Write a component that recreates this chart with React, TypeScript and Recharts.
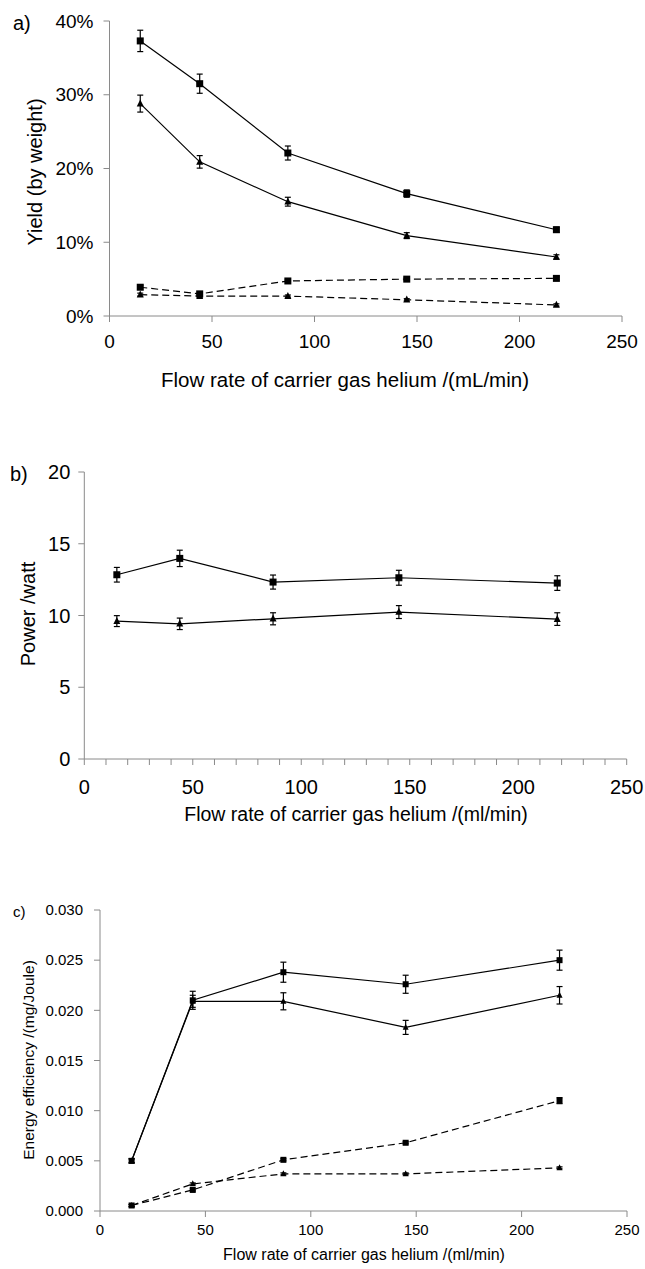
import React from "react";
import { LineChart, Line, XAxis, YAxis, ErrorBar } from "recharts";

// flow rate of carrier gas helium (ml/min)
const flow = [15, 44, 87, 145, 218];

// a) yield, % by weight
const yieldSq = [37.3, 31.5, 22.1, 16.6, 11.7];
const yieldSqErr = [1.45, 1.3, 0.95, 0.5, 0.35];
const yieldTri = [28.8, 20.9, 15.5, 10.9, 8.0];
const yieldTriErr = [1.15, 0.85, 0.6, 0.4, 0.3];
const yieldSqDash = [3.9, 3.0, 4.75, 5.0, 5.1];
const yieldSqDashErr = [0.25, 0.2, 0.2, 0.2, 0.2];
const yieldTriDash = [2.9, 2.7, 2.7, 2.2, 1.5];
const yieldTriDashErr = [0.2, 0.2, 0.15, 0.15, 0.15];

// b) power, watt
const powerSq = [12.84, 13.98, 12.33, 12.63, 12.26];
const powerSqErr = [0.51, 0.57, 0.49, 0.52, 0.51];
const powerTri = [9.61, 9.42, 9.77, 10.24, 9.75];
const powerTriErr = [0.38, 0.4, 0.42, 0.45, 0.44];

// c) energy efficiency, mg/Joule
const effSq = [0.005, 0.021, 0.0238, 0.0226, 0.025];
const effSqErr = [0.0002, 0.0009, 0.001, 0.0009, 0.001];
const effTri = [0.005, 0.0209, 0.0209, 0.0183, 0.0215];
const effTriErr = [0.0002, 0.0006, 0.00085, 0.0007, 0.00087];
const effSqDash = [0.00055, 0.0021, 0.0051, 0.0068, 0.011];
const effSqDashErr = [0.0001, 0.0001, 0.0001, 0.0001, 0.0003];
const effTriDash = [0.00055, 0.0027, 0.0037, 0.0037, 0.0043];
const effTriDashErr = [0.0001, 0.0001, 0.0001, 0.0001, 0.0001];

const xTicks = [0, 50, 100, 150, 200, 250];
const xTicksMinor = [0, 10, 20, 30, 40, 50, 60, 70, 80, 90, 100, 110, 120, 130, 140, 150, 160, 170, 180, 190, 200, 210, 220, 230, 240, 250];
const yTicksA = [0, 10, 20, 30, 40];
const yTicksB = [0, 5, 10, 15, 20];
const yTicksC = [0, 0.005, 0.01, 0.015, 0.02, 0.025, 0.03];

const FONT = '"Liberation Sans", Arial, sans-serif';
const AXIS = "#8a8a8a";

type Series = { key: string; values: number[]; err: number[]; marker: "sq" | "tri"; dashed: boolean };

const square = (s: number) => (p: any) => (
  <rect key={p.index} x={p.cx - s / 2} y={p.cy - s / 2} width={s} height={s} fill="#000" />
);
const triangle = (s: number) => (p: any) => (
  <polygon
    key={p.index}
    points={`${p.cx},${p.cy - s * 0.6} ${p.cx - s / 2},${p.cy + s * 0.4} ${p.cx + s / 2},${p.cy + s * 0.4}`}
    fill="#000"
  />
);

function Panel(props: {
  top: number;
  height: number;
  margin: { top: number; right: number; left: number; bottom: number };
  yWidth: number;
  yDomain: [number, number];
  yTicks: number[];
  yFormat: (v: number) => string;
  xTickValues: number[];
  tickFont: number;
  tickMargin: { x: number; y: number };
  series: Series[];
  marker: number;
}) {
  const data = flow.map((x, i) => {
    const row: any = { x };
    props.series.forEach((s) => {
      row[s.key] = s.values[i];
      row[s.key + "Err"] = s.err[i];
    });
    return row;
  });
  const tick = { fill: "#000", fontSize: props.tickFont, fontFamily: FONT };
  return (
    <div style={{ position: "absolute", left: 0, top: props.top }}>
      <LineChart width={645} height={props.height} data={data} margin={props.margin}>
        <XAxis
          dataKey="x"
          type="number"
          domain={[0, 250]}
          ticks={props.xTickValues}
          interval={0}
          tickFormatter={(v: number) => (v % 50 === 0 ? String(v) : "")}
          stroke={AXIS}
          tickSize={6}
          tickMargin={props.tickMargin.x}
          tick={tick}
          tickLine={{ stroke: AXIS }}
          height={30}
        />
        <YAxis
          type="number"
          domain={props.yDomain}
          ticks={props.yTicks}
          interval={0}
          tickFormatter={props.yFormat}
          stroke={AXIS}
          tickSize={6}
          tickMargin={props.tickMargin.y}
          tick={tick}
          tickLine={{ stroke: AXIS }}
          width={props.yWidth}
        />
        {props.series.map((s) => (
          <Line
            key={s.key}
            dataKey={s.key}
            stroke="#000"
            strokeWidth={1.2}
            strokeDasharray={s.dashed ? "7 4" : undefined}
            dot={s.marker === "sq" ? square(props.marker) : triangle(props.marker)}
            activeDot={false}
            isAnimationActive={false}
          >
            <ErrorBar dataKey={s.key + "Err"} width={3} stroke="#000" strokeWidth={1.2} direction="y" />
          </Line>
        ))}
      </LineChart>
    </div>
  );
}

function Text(props: { x: number; y: number; size: number; rotate?: boolean; anchor?: "start" | "middle"; children: string }) {
  const tx = props.anchor === "start" ? "0" : "-50%";
  return (
    <div
      style={{
        position: "absolute",
        left: props.x,
        top: props.y,
        fontFamily: FONT,
        fontSize: props.size,
        lineHeight: 1,
        whiteSpace: "nowrap",
        color: "#000",
        transform: `translate(${tx}, -50%)${props.rotate ? " rotate(-90deg)" : ""}`,
        transformOrigin: props.rotate ? "50% 50%" : undefined,
      }}
    >
      {props.children}
    </div>
  );
}

export default function App() {
  return (
    <div style={{ position: "absolute", left: 0, top: 0, width: 645, height: 1269, background: "#fff", overflow: "hidden" }}>
      <Panel
        top={0}
        height={400}
        margin={{ top: 21, right: 23, left: 49.5, bottom: 54 }}
        yWidth={60}
        yDomain={[0, 40]}
        yTicks={yTicksA}
        yFormat={(v) => `${v}%`}
        xTickValues={xTicks}
        tickFont={19}
        tickMargin={{ x: 13, y: 10 }}
        marker={7}
        series={[
          { key: "sq", values: yieldSq, err: yieldSqErr, marker: "sq", dashed: false },
          { key: "tri", values: yieldTri, err: yieldTriErr, marker: "tri", dashed: false },
          { key: "sqd", values: yieldSqDash, err: yieldSqDashErr, marker: "sq", dashed: true },
          { key: "trid", values: yieldTriDash, err: yieldTriDashErr, marker: "tri", dashed: true },
        ]}
      />
      <Text x={13} y={23} size={20} anchor="start">a)</Text>
      <Text x={35} y={172} size={20} rotate>Yield (by weight)</Text>
      <Text x={345} y={380} size={20.5}>Flow rate of carrier gas helium /(mL/min)</Text>

      <Panel
        top={400}
        height={460}
        margin={{ top: 72, right: 18.3, left: 24.3, bottom: 71 }}
        yWidth={60}
        yDomain={[0, 20]}
        yTicks={yTicksB}
        yFormat={(v) => String(v)}
        xTickValues={xTicksMinor}
        tickFont={20}
        tickMargin={{ x: 15, y: 8 }}
        marker={7}
        series={[
          { key: "sq", values: powerSq, err: powerSqErr, marker: "sq", dashed: false },
          { key: "tri", values: powerTri, err: powerTriErr, marker: "tri", dashed: false },
        ]}
      />
      <Text x={10} y={474} size={20} anchor="start">b)</Text>
      <Text x={28} y={614} size={20} rotate>Power /watt</Text>
      <Text x={356} y={815} size={19.5}>Flow rate of carrier gas helium /(ml/min)</Text>

      <Panel
        top={860}
        height={409}
        margin={{ top: 50, right: 18, left: 40, bottom: 28 }}
        yWidth={60}
        yDomain={[0, 0.03]}
        yTicks={yTicksC}
        yFormat={(v) => v.toFixed(3)}
        xTickValues={xTicks}
        tickFont={15}
        tickMargin={{ x: 7, y: 11 }}
        marker={6}
        series={[
          { key: "sq", values: effSq, err: effSqErr, marker: "sq", dashed: false },
          { key: "tri", values: effTri, err: effTriErr, marker: "tri", dashed: false },
          { key: "sqd", values: effSqDash, err: effSqDashErr, marker: "sq", dashed: true },
          { key: "trid", values: effTriDash, err: effTriDashErr, marker: "tri", dashed: true },
        ]}
      />
      <Text x={13} y={911} size={15} anchor="start">c)</Text>
      <Text x={29} y={1060} size={15.5} rotate>Energy efficiency /(mg/Joule)</Text>
      <Text x={364} y={1255} size={16}>Flow rate of carrier gas helium /(ml/min)</Text>
    </div>
  );
}
